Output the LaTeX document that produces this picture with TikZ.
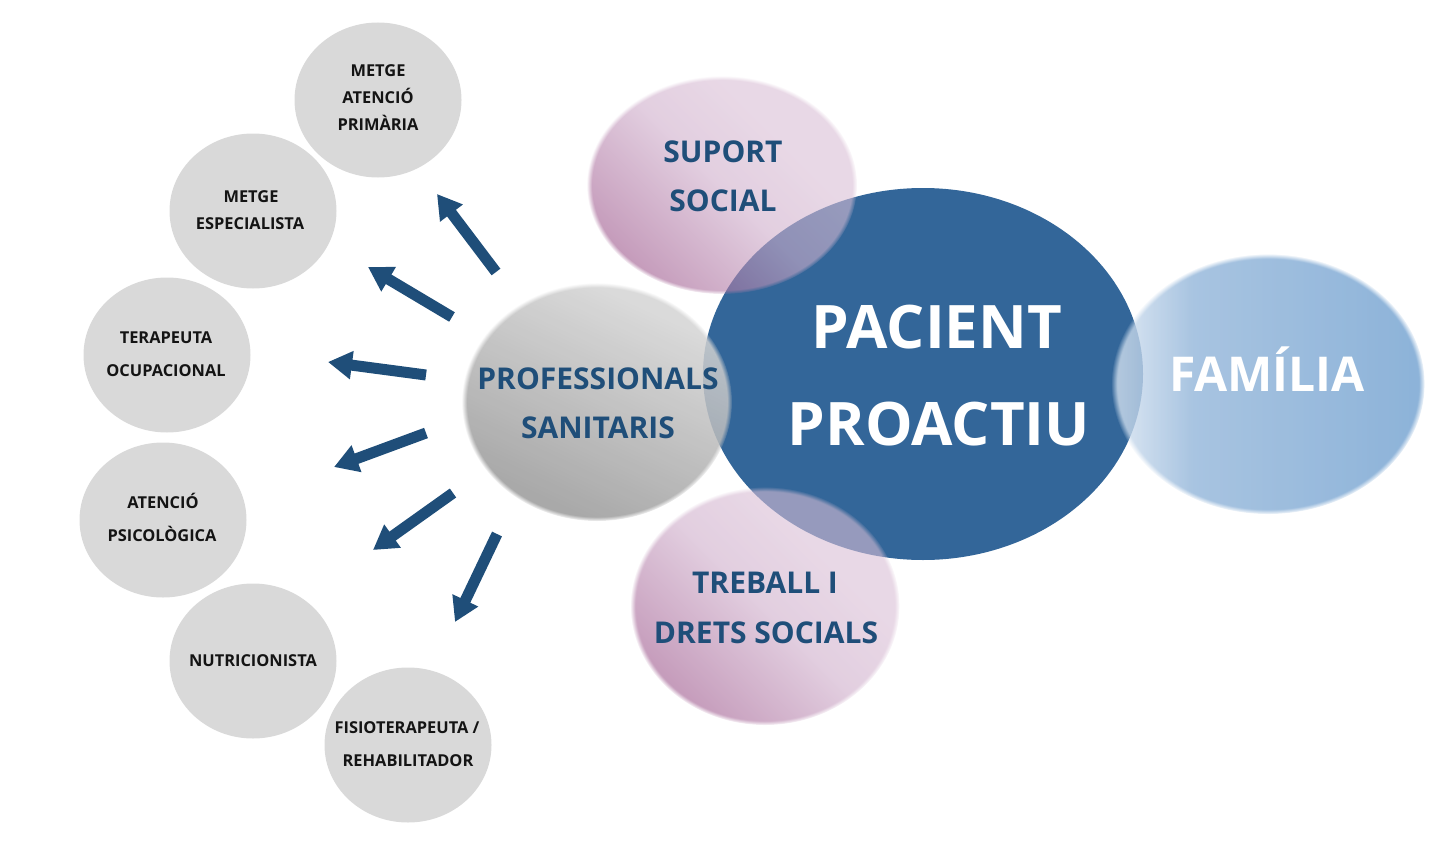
\documentclass[tikz,border=0pt]{standalone}
\usepackage{fontspec}
\setmainfont{Open Sans}
\usetikzlibrary{arrows.meta,shapes.geometric,fadings}
\definecolor{bigblue}{HTML}{336699}
\definecolor{txtblue}{HTML}{1F4E79}
\definecolor{arrblue}{HTML}{1F4E79}
\definecolor{smallgray}{HTML}{D9D9D9}
\definecolor{pinkL}{HTML}{D9BED5}
\definecolor{pinkM}{HTML}{CFAECB}
\definecolor{pinkD}{HTML}{9D578C}
\definecolor{grayL}{HTML}{D4D4D4}
\definecolor{grayD}{HTML}{9A9A9A}
\definecolor{famA}{HTML}{D8E4F1}
\definecolor{famB}{HTML}{92B5D9}
\definecolor{famC}{HTML}{6F9FCF}
\pgfdeclareradialshading{softedgeshade}{\pgfpointorigin}{color(0bp)=(white); color(24bp)=(white); color(25bp)=(black); color(50bp)=(black)}
\pgfdeclarefading{softedge}{\pgfuseshading{softedgeshade}}
\pgfdeclareverticalshading{pinkshade}{100bp}{color(0bp)=(pinkD); color(25bp)=(pinkD); color(50bp)=(pinkM); color(65bp)=(pinkL); color(100bp)=(pinkL)}
\pgfdeclareverticalshading{grayshade}{100bp}{color(0bp)=(grayD); color(28bp)=(grayD); color(72bp)=(grayL); color(100bp)=(grayL)}
\pgfdeclarehorizontalshading{famshade}{100bp}{color(0bp)=(famA); color(25bp)=(famA); color(38bp)=(famB); color(75bp)=(famC); color(100bp)=(famC)}
\tikzset{
  smallcirc/.style={ellipse, inner sep=0pt, outer sep=0pt, minimum width=167pt, minimum height=155pt, fill=smallgray},
  bigcirc/.style={ellipse, inner sep=0pt, outer sep=0pt, fill=bigblue},
  softblob/.style={ellipse, inner sep=0pt, outer sep=0pt, path fading=softedge, fit fading=true},
  pinkblob/.style={softblob, shading=pinkshade, shading angle=-45, fill opacity=0.6},
  grayblob/.style={softblob, shading=grayshade, shading angle=-25, fill opacity=0.85},
  famblob/.style={softblob, shading=famshade, fill opacity=0.8},
  smalllbl/.style={anchor=base, inner sep=0pt, text=black!92, font=\bfseries\fontsize{16.4}{16.4}\selectfont},
  midlbl/.style={anchor=base, inner sep=0pt, text=txtblue, font=\bfseries\fontsize{30}{30}\selectfont},
  biglbl/.style={anchor=base, inner sep=0pt, text=white, font=\bfseries\fontsize{60}{60}\selectfont},
  famlbl/.style={anchor=base, inner sep=0pt, text=white, font=\bfseries\fontsize{48}{48}\selectfont},
  blockarrow/.style={draw=arrblue, line width=11pt, line cap=butt, -{Triangle[length=24pt,width=27pt]}},
}
\begin{document}
\begin{tikzpicture}[x=1pt,y=-1pt]
\useasboundingbox (0,0) rectangle (1447,856);
% small circles
\node[smallcirc] (c1) at (378,100) {};
\node[smallcirc] (c2) at (253,211) {};
\node[smallcirc] (c3) at (167,355) {};
\node[smallcirc] (c4) at (163,520) {};
\node[smallcirc] (c5) at (253,661) {};
\node[smallcirc] (c6) at (408,745) {};
% big circle
\node[bigcirc, minimum width=440pt, minimum height=372pt] (pacient) at (923,374) {};
% soft blobs
\node[pinkblob, minimum width=270pt, minimum height=218pt] (suport) at (722,185) {};
\node[pinkblob, minimum width=269pt, minimum height=238pt] (treball) at (765,606) {};
\node[grayblob, minimum width=270pt, minimum height=238pt] (prof) at (597,402) {};
\node[famblob, minimum width=313pt, minimum height=260pt] (familia) at (1268,384) {};
% small labels
\node[smalllbl] (t1a) at (378,77) {METGE};
\node[smalllbl] (t1b) at (378,104) {ATENCIÓ};
\node[smalllbl] (t1c) at (378,130) {PRIMÀRIA};
\node[smalllbl] (t2a) at (251,202) {METGE};
\node[smalllbl] (t2b) at (250,229) {ESPECIALISTA};
\node[smalllbl] (t3a) at (166,343) {TERAPEUTA};
\node[smalllbl] (t3b) at (166,376) {OCUPACIONAL};
\node[smalllbl] (t4a) at (163,508) {ATENCIÓ};
\node[smalllbl] (t4b) at (162,541) {PSICOLÒGICA};
\node[smalllbl] (t5a) at (253,666) {NUTRICIONISTA};
\node[smalllbl] (t6a) at (407,733) {FISIOTERAPEUTA /};
\node[smalllbl] (t6b) at (408,766) {REHABILITADOR};
% mid labels
\node[midlbl] (s1) at (723,162) {SUPORT};
\node[midlbl] (s2) at (723,211) {SOCIAL};
\node[midlbl] (p1) at (598,389) {PROFESSIONALS};
\node[midlbl] (p2) at (598,438) {SANITARIS};
\node[midlbl] (w1) at (765,593) {TREBALL I};
\node[midlbl] (w2) at (766,643) {DRETS SOCIALS};
% big labels
\node[biglbl] (b1) at (937,348) {PACIENT};
\node[biglbl] (b2) at (939,445) {PROACTIU};
\node[famlbl] (f1) at (1267,391) {FAMÍLIA};
% arrows
\coordinate (a1t) at (496,272); \coordinate (a1h) at (437,194);
\coordinate (a2t) at (452,317); \coordinate (a2h) at (368,267);
\coordinate (a3t) at (426,375); \coordinate (a3h) at (328,362);
\coordinate (a4t) at (426,433); \coordinate (a4h) at (334,467);
\coordinate (a5t) at (453,493); \coordinate (a5h) at (373,550);
\coordinate (a6t) at (497,534); \coordinate (a6h) at (455,622);
\draw[blockarrow] (a1t) -- (a1h);
\draw[blockarrow] (a2t) -- (a2h);
\draw[blockarrow] (a3t) -- (a3h);
\draw[blockarrow] (a4t) -- (a4h);
\draw[blockarrow] (a5t) -- (a5h);
\draw[blockarrow] (a6t) -- (a6h);
\end{tikzpicture}
\end{document}
